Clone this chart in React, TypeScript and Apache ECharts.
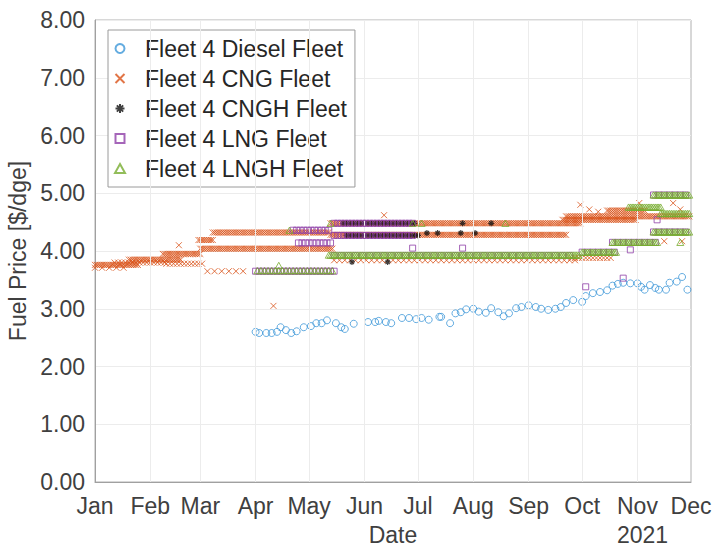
import React, { useEffect, useRef } from "react";
import * as echarts from "echarts";

type Seg = [string, string, number, number];
type Pt = [string, number];

const seriesNames = [
  "Fleet 4 Diesel Fleet",
  "Fleet 4 CNG Fleet",
  "Fleet 4 CNGH Fleet",
  "Fleet 4 LNG Fleet",
  "Fleet 4 LNGH Fleet",
];

const dieselPoints: Pt[] = [
  ["2021-04-01", 2.6], ["2021-04-03", 2.58], ["2021-04-07", 2.58], ["2021-04-10", 2.58],
  ["2021-04-13", 2.6], ["2021-04-15", 2.68], ["2021-04-18", 2.63], ["2021-04-21", 2.58],
  ["2021-04-24", 2.61], ["2021-04-28", 2.68], ["2021-05-02", 2.7], ["2021-05-05", 2.75],
  ["2021-05-08", 2.75], ["2021-05-11", 2.8], ["2021-05-16", 2.75], ["2021-05-19", 2.68],
  ["2021-05-21", 2.65], ["2021-05-26", 2.74], ["2021-06-03", 2.77], ["2021-06-07", 2.77],
  ["2021-06-09", 2.79], ["2021-06-13", 2.77], ["2021-06-16", 2.75], ["2021-06-22", 2.84],
  ["2021-06-26", 2.84], ["2021-06-30", 2.82], ["2021-07-03", 2.84], ["2021-07-07", 2.81],
  ["2021-07-13", 2.86], ["2021-07-14", 2.86], ["2021-07-19", 2.75], ["2021-07-22", 2.92],
  ["2021-07-25", 2.94], ["2021-07-28", 2.99], ["2021-08-01", 3.0], ["2021-08-04", 2.95],
  ["2021-08-08", 2.93], ["2021-08-11", 3.01], ["2021-08-15", 2.94], ["2021-08-18", 2.87],
  ["2021-08-21", 2.92], ["2021-08-25", 3.01], ["2021-08-28", 3.03], ["2021-09-01", 3.06],
  ["2021-09-05", 3.03], ["2021-09-08", 3.0], ["2021-09-12", 2.98], ["2021-09-16", 3.0],
  ["2021-09-19", 3.03], ["2021-09-22", 3.1], ["2021-09-26", 3.15], ["2021-10-01", 3.12],
  ["2021-10-03", 3.22], ["2021-10-07", 3.27], ["2021-10-11", 3.29], ["2021-10-15", 3.32],
  ["2021-10-18", 3.4], ["2021-10-21", 3.43], ["2021-10-24", 3.45], ["2021-10-28", 3.44],
  ["2021-11-01", 3.44], ["2021-11-03", 3.38], ["2021-11-05", 3.33], ["2021-11-08", 3.41],
  ["2021-11-11", 3.36], ["2021-11-13", 3.33], ["2021-11-17", 3.33], ["2021-11-19", 3.45],
  ["2021-11-23", 3.47], ["2021-11-26", 3.55], ["2021-11-29", 3.33],
];

// bands: [start, end, price, spacing in days]
const cngBands: Seg[] = [
  ["2021-01-01", "2021-01-25", 3.76, 1],
  ["2021-01-01", "2021-01-20", 3.71, 4],
  ["2021-01-12", "2021-02-10", 3.8, 2],
  ["2021-01-20", "2021-02-18", 3.85, 1],
  ["2021-02-10", "2021-03-02", 3.78, 2],
  ["2021-02-08", "2021-03-01", 3.95, 1],
  ["2021-02-28", "2021-03-08", 4.19, 1],
  ["2021-03-01", "2021-05-14", 4.04, 1],
  ["2021-03-08", "2021-05-12", 4.32, 1],
  ["2021-03-05", "2021-03-28", 3.65, 4],
  ["2021-05-13", "2021-09-30", 4.48, 1],
  ["2021-05-13", "2021-09-22", 4.28, 1],
  ["2021-05-15", "2021-09-28", 3.84, 3],
  ["2021-09-20", "2021-10-31", 4.54, 1],
  ["2021-09-22", "2021-11-30", 4.6, 1],
  ["2021-10-15", "2021-11-05", 4.7, 1],
  ["2021-09-25", "2021-10-18", 3.88, 2],
];
const cngSingles: Pt[] = [
  ["2021-02-17", 4.1], ["2021-04-11", 3.05], ["2021-06-12", 4.62], ["2021-09-30", 4.8],
  ["2021-11-02", 4.83], ["2021-11-21", 4.83], ["2021-11-25", 4.72], ["2021-11-16", 4.17],
  ["2021-11-26", 4.17], ["2021-10-05", 4.72], ["2021-10-10", 4.68],
];

const cnghBands: Seg[] = [
  ["2021-05-20", "2021-06-30", 4.48, 2],
  ["2021-05-22", "2021-07-02", 4.27, 2],
];
const cnghSingles: Pt[] = [
  ["2021-07-26", 4.48], ["2021-08-11", 4.48], ["2021-07-06", 4.31], ["2021-07-12", 4.31],
  ["2021-07-25", 4.31], ["2021-08-02", 4.31], ["2021-05-25", 3.81], ["2021-06-14", 3.81],
];

const lngBands: Seg[] = [
  ["2021-04-01", "2021-05-15", 3.65, 2],
  ["2021-04-22", "2021-05-12", 4.36, 2],
  ["2021-04-25", "2021-05-14", 4.14, 2],
  ["2021-05-15", "2021-06-28", 4.48, 2],
  ["2021-05-15", "2021-06-28", 4.27, 2],
  ["2021-05-15", "2021-09-25", 3.92, 4],
  ["2021-10-01", "2021-10-20", 3.98, 3],
  ["2021-10-18", "2021-11-12", 4.15, 3],
  ["2021-11-10", "2021-11-30", 4.33, 3],
  ["2021-11-10", "2021-11-30", 4.97, 3],
];
const lngSingles: Pt[] = [
  ["2021-10-03", 3.38], ["2021-10-24", 3.53], ["2021-06-28", 4.05], ["2021-07-26", 4.05],
  ["2021-10-28", 4.02], ["2021-11-12", 4.54],
];

const lnghBands: Seg[] = [
  ["2021-04-02", "2021-05-15", 3.66, 2],
  ["2021-05-12", "2021-09-29", 3.93, 1],
  ["2021-10-01", "2021-10-20", 3.98, 1],
  ["2021-10-18", "2021-11-12", 4.15, 1],
  ["2021-10-27", "2021-11-14", 4.76, 1],
  ["2021-11-10", "2021-11-30", 4.97, 1],
  ["2021-11-10", "2021-11-30", 4.33, 1],
  ["2021-11-14", "2021-11-30", 4.65, 1],
];
const lnghSingles: Pt[] = [
  ["2021-04-14", 3.75], ["2021-06-28", 4.48], ["2021-07-03", 4.48], ["2021-08-19", 4.48],
  ["2021-11-25", 4.15], ["2021-04-20", 4.36], ["2021-05-13", 4.48],
];

const DAY = 86400000;
function expand(bands: Seg[], singles: Pt[]): [number, number][] {
  const out: [number, number][] = [];
  for (const [s, e, v, step] of bands) {
    const t0 = Date.parse(s + "T00:00:00Z");
    const t1 = Date.parse(e + "T00:00:00Z");
    for (let t = t0; t <= t1; t += step * DAY) out.push([t, v]);
  }
  for (const [d, v] of singles) out.push([Date.parse(d + "T00:00:00Z"), v]);
  return out;
}
function toPts(p: Pt[]): [number, number][] {
  return p.map(([d, v]) => [Date.parse(d + "T00:00:00Z"), v]);
}

const X_PATH = "path://M0,0L10,10M10,0L0,10";
const STAR_PATH = "path://M5,0L5,10M0,5L10,5M1.5,1.5L8.5,8.5M8.5,1.5L1.5,8.5";
const SQUARE_PATH = "path://M0,0L10,0L10,10L0,10Z";
const TRI_PATH = "path://M5,0L10,9L0,9Z";
const MONTHS = ["Jan", "Feb", "Mar", "Apr", "May", "Jun", "Jul", "Aug", "Sep", "Oct", "Nov", "Dec"];
const FONT = "Liberation Sans, Arial, sans-serif";
const FS = 23;

export default function App() {
  const ref = useRef<HTMLDivElement>(null);
  useEffect(() => {
    document.body.style.margin = "0";
    const chart = echarts.init(ref.current!, null, { renderer: "svg" });
    const xMin = Date.UTC(2021, 0, 1);
    const xMax = Date.UTC(2021, 11, 1);
    const monthTicks = MONTHS.map((_, i) => Date.UTC(2021, i, 1));
    chart.setOption({
      animation: false,
      backgroundColor: "#ffffff",
      textStyle: { fontFamily: FONT },
      grid: {
        left: 95, right: 21, top: 20, bottom: 66,
        outerBoundsMode: "none",
        containLabel: false,
        show: true, borderColor: "#b0b0b0", borderWidth: 1,
      },
      legend: {
        orient: "vertical",
        left: 108, top: 30,
        padding: [7, 8, 7, 5],
        itemGap: 7,
        itemWidth: 40, itemHeight: 9,
        symbolKeepAspect: true,
        backgroundColor: "#ffffff",
        borderColor: "#9a9a9a",
        borderWidth: 1,
        textStyle: { fontSize: FS, color: "#262626", fontFamily: FONT },
        data: seriesNames,
      },
      xAxis: {
        type: "value",
        min: xMin, max: xMax,
        name: "Date",
        nameLocation: "middle",
        nameGap: 41,
        nameTextStyle: { fontSize: FS, color: "#404040", fontFamily: FONT },
        axisLine: { show: true, lineStyle: { color: "#a0a0a0" } },
        axisTick: { show: false },
        axisLabel: {
          customValues: monthTicks,
          formatter: (v: number) => MONTHS[new Date(v).getUTCMonth()],
          fontSize: FS, color: "#404040", margin: 12, fontFamily: FONT,
        },
        splitLine: { show: false },
      },
      yAxis: {
        type: "value",
        min: 0, max: 8, interval: 1,
        name: "Fuel Price [$/dge]",
        nameLocation: "middle",
        nameGap: 59,
        nameTextStyle: { fontSize: FS, color: "#404040", fontFamily: FONT },
        axisLine: { show: true, lineStyle: { color: "#a0a0a0" } },
        axisTick: { show: false },
        axisLabel: {
          formatter: (v: number) => v.toFixed(2),
          fontSize: FS, color: "#404040", margin: 10, fontFamily: FONT,
        },
        splitLine: { show: true, lineStyle: { color: "#ececec" } },
      },
      graphic: [
        {
          type: "text", left: 617, top: 523,
          style: { text: "2021", fontSize: FS, fill: "#404040", fontFamily: FONT },
        },
      ],
      series: [
        {
          type: "line",
          data: monthTicks.slice(1, 11).map((t) => [t, 0]),
          symbol: "none",
          lineStyle: { opacity: 0 },
          silent: true,
          markLine: {
            silent: true, symbol: "none", label: { show: false },
            lineStyle: { color: "#ececec", type: "solid", width: 1 },
            data: monthTicks.slice(1, 11).map((t) => ({ xAxis: t })),
          },
          z: 0,
        },
        {
          name: seriesNames[0], type: "scatter", data: toPts(dieselPoints),
          symbol: "circle", symbolSize: 7, symbolKeepAspect: true,
          itemStyle: { color: "rgba(0,0,0,0)", borderColor: "#3d97d8", borderWidth: 1 },
          z: 2,
        },
        {
          name: seriesNames[1], type: "scatter", data: expand(cngBands, cngSingles),
          symbol: X_PATH, symbolSize: 6, symbolKeepAspect: true,
          itemStyle: { color: "none", borderColor: "#d95319", borderWidth: 1 },
          z: 3,
        },
        {
          name: seriesNames[2], type: "scatter", data: expand(cnghBands, cnghSingles),
          symbol: STAR_PATH, symbolSize: 6, symbolKeepAspect: true,
          itemStyle: { color: "none", borderColor: "#111111", borderWidth: 1.2 },
          z: 4,
        },
        {
          name: seriesNames[3], type: "scatter", data: expand(lngBands, lngSingles),
          symbol: SQUARE_PATH, symbolSize: 6, symbolKeepAspect: true,
          itemStyle: { color: "rgba(0,0,0,0)", borderColor: "#8e3fa8", borderWidth: 1 },
          z: 5,
        },
        {
          name: seriesNames[4], type: "scatter", data: expand(lnghBands, lnghSingles),
          symbol: TRI_PATH, symbolSize: 7, symbolKeepAspect: true,
          itemStyle: { color: "rgba(0,0,0,0)", borderColor: "#77ac30", borderWidth: 1 },
          z: 6,
        },
      ],
    });
    return () => chart.dispose();
  }, []);
  return (
    <div
      ref={ref}
      style={{ position: "fixed", left: 0, top: 0, width: 712, height: 548 }}
    />
  );
}
